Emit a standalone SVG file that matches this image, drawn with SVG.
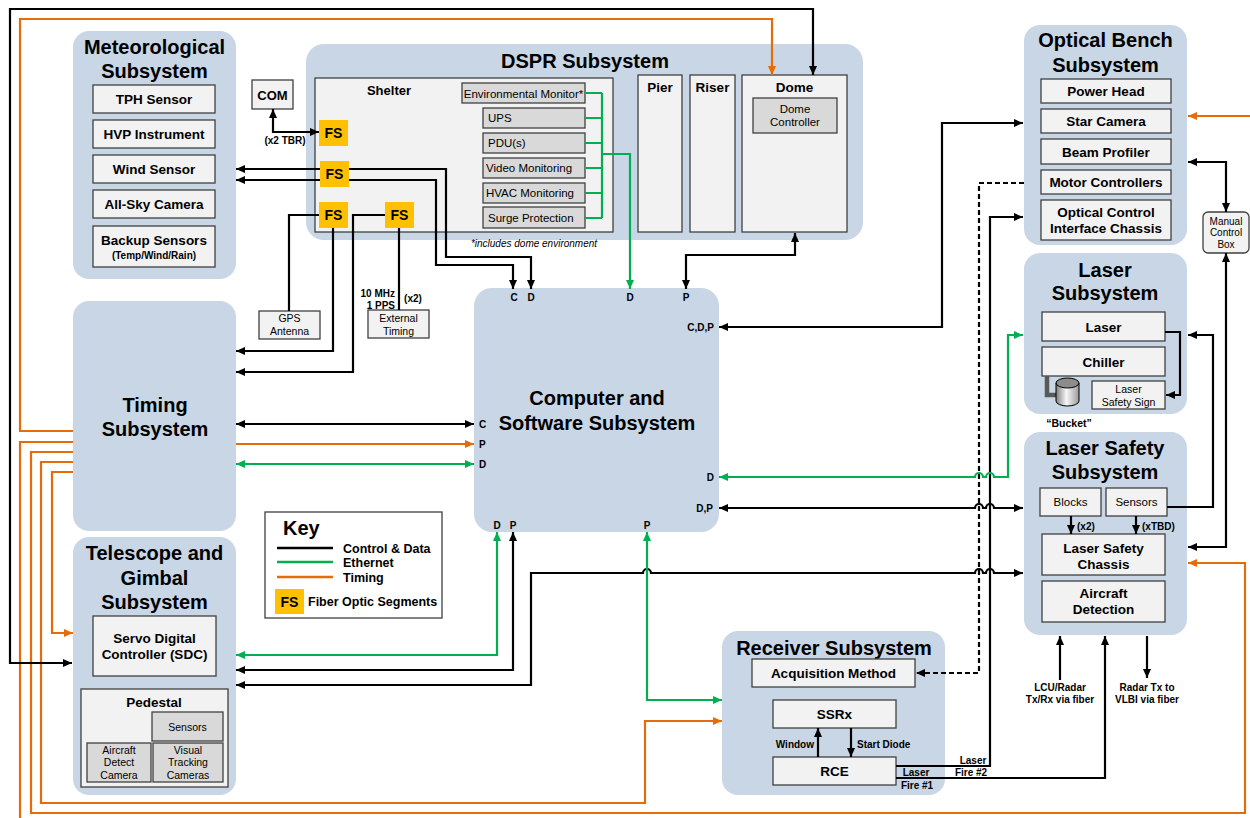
<svg xmlns="http://www.w3.org/2000/svg" width="1250" height="818" viewBox="0 0 1250 818">
<defs>
  <marker id="ak" viewBox="0 0 9 8" refX="9" refY="4" markerWidth="9" markerHeight="8" markerUnits="userSpaceOnUse" orient="auto-start-reverse"><path d="M0,0 L9,4 L0,8 z" fill="#000"/></marker>
  <marker id="ag" viewBox="0 0 9 8" refX="9" refY="4" markerWidth="9" markerHeight="8" markerUnits="userSpaceOnUse" orient="auto-start-reverse"><path d="M0,0 L9,4 L0,8 z" fill="#00B050"/></marker>
  <marker id="ao" viewBox="0 0 9 8" refX="9" refY="4" markerWidth="9" markerHeight="8" markerUnits="userSpaceOnUse" orient="auto-start-reverse"><path d="M0,0 L9,4 L0,8 z" fill="#E46C0A"/></marker>
  <linearGradient id="cyl" x1="0" y1="0" x2="1" y2="0">
    <stop offset="0" stop-color="#7f7f7f"/>
    <stop offset="0.45" stop-color="#f7f7f7"/>
    <stop offset="1" stop-color="#9a9a9a"/>
  </linearGradient>
</defs>
<style>
  text { font-family: "Liberation Sans", Arial, sans-serif; fill: #000; }
  .sub { fill: #C8D6E5; }
  .box { fill: #F2F2F2; stroke: #404040; stroke-width: 1.3; }
  .gbox { fill: #D9D9D9; stroke: #404040; stroke-width: 1.3; }
  .fs { fill: #FFC000; }
  .h { font-size: 20px; font-weight: bold; text-anchor: middle; }
  .b { font-size: 13.5px; font-weight: bold; text-anchor: middle; }
  .n { font-size: 11.5px; text-anchor: middle; }
  .s { font-size: 10.5px; text-anchor: middle; }
  .l { font-size: 10px; font-weight: bold; }
  .c { text-anchor: middle; }
  .e { text-anchor: end; }
  .fst { font-size: 14px; font-weight: bold; text-anchor: middle; }
  .k { fill: none; stroke: #000; stroke-width: 2.2; }
  .g { fill: none; stroke: #00B050; stroke-width: 2.2; }
  .o { fill: none; stroke: #E46C0A; stroke-width: 2.2; }
</style>
<rect width="1250" height="818" fill="#fff"/>

<!-- Meteorological -->
<g id="meteorological">
  <rect class="sub" x="73" y="31" width="163" height="248" rx="16"/>
  <text class="h" x="154.5" y="54">Meteorological</text>
  <text class="h" x="154.5" y="78">Subsystem</text>
  <rect class="box" x="93" y="85" width="122" height="28"/>
  <text class="b" x="154" y="104">TPH Sensor</text>
  <rect class="box" x="93" y="120" width="122" height="28"/>
  <text class="b" x="154" y="139">HVP Instrument</text>
  <rect class="box" x="93" y="155" width="122" height="28"/>
  <text class="b" x="154" y="174">Wind Sensor</text>
  <rect class="box" x="93" y="190" width="122" height="28"/>
  <text class="b" x="154" y="209">All-Sky Camera</text>
  <rect class="box" x="93" y="226" width="122" height="41"/>
  <text class="b" x="154" y="245">Backup Sensors</text>
  <text class="l c" x="154" y="259">(Temp/Wind/Rain)</text>
</g>

<!-- COM -->
<g id="com">
  <rect class="box" x="252" y="80" width="41" height="29"/>
  <text class="c" x="272.5" y="99.5" font-size="13" font-weight="bold">COM</text>
  <text class="l c" x="285" y="144">(x2 TBR)</text>
</g>

<!-- DSPR -->
<g id="dspr">
  <rect class="sub" x="306" y="44" width="557" height="196" rx="18"/>
  <text class="h" x="585" y="68">DSPR Subsystem</text>
  <rect class="box" x="315" y="78" width="298" height="154"/>
  <text class="c" x="389" y="95" font-size="13" font-weight="bold">Shelter</text>
  <rect class="gbox" x="462" y="83" width="123" height="20"/>
  <text class="n" x="523.5" y="97.5">Environmental Monitor*</text>
  <rect class="gbox" x="483" y="108" width="102" height="20"/>
  <text x="488" y="122" font-size="11.5">UPS</text>
  <rect class="gbox" x="483" y="133" width="102" height="20"/>
  <text x="488" y="147" font-size="11.5">PDU(s)</text>
  <rect class="gbox" x="483" y="158" width="102" height="20"/>
  <text x="486" y="172" font-size="11.5">Video Monitoring</text>
  <rect class="gbox" x="483" y="183" width="102" height="20"/>
  <text x="486" y="197" font-size="11.5">HVAC Monitoring</text>
  <rect class="gbox" x="483" y="207" width="102" height="21"/>
  <text x="488" y="221.5" font-size="11.5">Surge Protection</text>
  <rect class="box" x="638" y="75" width="44" height="157"/>
  <text class="b" x="660" y="92">Pier</text>
  <rect class="box" x="690" y="75" width="45" height="157"/>
  <text class="b" x="712.5" y="92">Riser</text>
  <rect class="box" x="742" y="75" width="105" height="157"/>
  <text class="b" x="794.5" y="92">Dome</text>
  <rect class="gbox" x="753" y="98" width="84" height="35"/>
  <text class="n" x="795" y="113">Dome</text>
  <text class="n" x="795" y="126">Controller</text>
  <text class="c" x="534" y="247" font-size="10" font-style="italic">*includes dome environment</text>
</g>

<!-- GPS antenna and external timing -->
<g id="gps-antenna">
  <rect class="box" x="259" y="311" width="61" height="28"/>
  <text class="s" x="289.5" y="322">GPS</text>
  <text class="s" x="289.5" y="335">Antenna</text>
</g>
<g id="external-timing">
  <rect class="box" x="368" y="310" width="61" height="28"/>
  <text class="s" x="398.5" y="321.5">External</text>
  <text class="s" x="398.5" y="334.5">Timing</text>
  <text class="l e" x="395" y="297">10 MHz</text>
  <text class="l e" x="395" y="308.5">1 PPS</text>
  <text class="l c" x="413" y="302">(x2)</text>
</g>

<!-- Timing -->
<g id="timing">
  <rect class="sub" x="73" y="301" width="163" height="230" rx="16"/>
  <text class="h" x="155" y="412">Timing</text>
  <text class="h" x="155" y="436">Subsystem</text>
</g>

<!-- Computer and Software -->
<g id="computer">
  <rect class="sub" x="474" y="288" width="245" height="244" rx="18"/>
  <text class="h" x="597" y="405">Computer and</text>
  <text class="h" x="597" y="430">Software Subsystem</text>
  <text class="l c" x="514" y="301">C</text>
  <text class="l c" x="531" y="301">D</text>
  <text class="l c" x="630" y="301">D</text>
  <text class="l c" x="686" y="301">P</text>
  <text class="l e" x="714" y="331">C,D,P</text>
  <text class="l e" x="714" y="481">D</text>
  <text class="l e" x="713" y="512">D,P</text>
  <text class="l" x="479" y="428">C</text>
  <text class="l" x="479" y="448">P</text>
  <text class="l" x="479" y="468">D</text>
  <text class="l c" x="497" y="529">D</text>
  <text class="l c" x="513" y="529">P</text>
  <text class="l c" x="647" y="529">P</text>
</g>

<!-- Telescope and Gimbal -->
<g id="telescope">
  <rect class="sub" x="73" y="537" width="163" height="258" rx="16"/>
  <text class="h" x="154.5" y="560">Telescope and</text>
  <text class="h" x="154.5" y="585">Gimbal</text>
  <text class="h" x="154.5" y="609">Subsystem</text>
  <rect class="box" x="93" y="616" width="123" height="60"/>
  <text class="b" x="154.5" y="643">Servo Digital</text>
  <text class="b" x="154.5" y="659">Controller (SDC)</text>
  <rect class="box" x="81" y="689" width="147" height="98"/>
  <text class="b" x="154" y="707">Pedestal</text>
  <rect class="gbox" x="152" y="712" width="71" height="29"/>
  <text class="s" x="187.5" y="730.5">Sensors</text>
  <rect class="gbox" x="87" y="743" width="64" height="39"/>
  <text class="s" x="119" y="754">Aircraft</text>
  <text class="s" x="119" y="766">Detect</text>
  <text class="s" x="119" y="779">Camera</text>
  <rect class="gbox" x="153" y="743" width="70" height="39"/>
  <text class="s" x="188" y="754">Visual</text>
  <text class="s" x="188" y="766">Tracking</text>
  <text class="s" x="188" y="779">Cameras</text>
</g>

<!-- Key -->
<g id="key">
  <rect x="265" y="512" width="177" height="106" fill="#fff" stroke="#404040" stroke-width="1.3"/>
  <text x="283" y="535" font-size="20" font-weight="bold">Key</text>
  <line x1="277" y1="548" x2="333" y2="548" stroke="#000" stroke-width="2.5"/>
  <line x1="277" y1="562" x2="333" y2="562" stroke="#00B050" stroke-width="2.5"/>
  <line x1="277" y1="577" x2="333" y2="577" stroke="#E46C0A" stroke-width="2.5"/>
  <text x="343" y="553" font-size="12.5" font-weight="bold">Control &amp; Data</text>
  <text x="343" y="567" font-size="12.5" font-weight="bold">Ethernet</text>
  <text x="343" y="582" font-size="12.5" font-weight="bold">Timing</text>
  <rect class="fs" x="275" y="589" width="29" height="25"/>
  <text class="fst" x="289.5" y="606.5">FS</text>
  <text x="308" y="606" font-size="12.5" font-weight="bold">Fiber Optic Segments</text>
</g>

<!-- Receiver -->
<g id="receiver">
  <rect class="sub" x="722" y="631" width="223" height="164" rx="16"/>
  <text class="h" x="834" y="655">Receiver Subsystem</text>
  <rect class="box" x="752" y="659" width="163" height="28"/>
  <text class="b" x="833.5" y="678">Acquisition Method</text>
  <rect class="box" x="773" y="700" width="123" height="28"/>
  <text class="b" x="834.5" y="719">SSRx</text>
  <rect class="box" x="773" y="757" width="123" height="28"/>
  <text class="b" x="834.5" y="776">RCE</text>
  <text class="l e" x="814" y="748">Window</text>
  <text class="l" x="857" y="748">Start Diode</text>
  <text class="l c" x="973" y="764">Laser</text>
  <text class="l c" x="971" y="776">Fire #2</text>
  <text class="l c" x="916" y="776">Laser</text>
  <text class="l c" x="917" y="789">Fire #1</text>
</g>

<!-- Optical Bench -->
<g id="optical-bench">
  <rect class="sub" x="1024" y="25" width="163" height="220" rx="16"/>
  <text class="h" x="1105.5" y="47">Optical Bench</text>
  <text class="h" x="1105.5" y="72">Subsystem</text>
  <rect class="box" x="1041" y="79" width="130" height="24"/>
  <text class="b" x="1106" y="96">Power Head</text>
  <rect class="box" x="1041" y="109" width="130" height="24"/>
  <text class="b" x="1106" y="126">Star Camera</text>
  <rect class="box" x="1041" y="139" width="130" height="25"/>
  <text class="b" x="1106" y="156.5">Beam Profiler</text>
  <rect class="box" x="1041" y="170" width="130" height="24"/>
  <text class="b" x="1106" y="187">Motor Controllers</text>
  <rect class="box" x="1041" y="200" width="130" height="40"/>
  <text class="b" x="1106" y="217">Optical Control</text>
  <text class="b" x="1106" y="233">Interface Chassis</text>
</g>

<!-- Manual Control Box -->
<g id="manual-control-box">
  <rect class="box" x="1203" y="212" width="46" height="41" rx="5"/>
  <text class="c" x="1226" y="224.5" font-size="10">Manual</text>
  <text class="c" x="1226" y="236" font-size="10">Control</text>
  <text class="c" x="1226" y="248" font-size="10">Box</text>
</g>

<!-- Laser -->
<g id="laser">
  <rect class="sub" x="1024" y="253" width="163" height="161" rx="16"/>
  <text class="h" x="1105" y="277">Laser</text>
  <text class="h" x="1105" y="300">Subsystem</text>
  <rect class="box" x="1042" y="312" width="123" height="29"/>
  <text class="b" x="1103.5" y="331.5">Laser</text>
  <rect class="box" x="1042" y="347" width="123" height="29"/>
  <text class="b" x="1103.5" y="366.5">Chiller</text>
  <path d="M1047,376 V395 H1058" fill="none" stroke="#595959" stroke-width="4.5"/>
  <path d="M1056,383 V401 A11.5,5 0 0 0 1079,401 V383 Z" fill="url(#cyl)" stroke="#000" stroke-width="1"/>
  <ellipse cx="1067.5" cy="383" rx="11.5" ry="5" fill="#8c8c8c" stroke="#000" stroke-width="1"/>
  <rect class="box" x="1092" y="381" width="73" height="28"/>
  <text class="s" x="1128.5" y="393">Laser</text>
  <text class="s" x="1128.5" y="406">Safety Sign</text>
  <text class="c" x="1069" y="427" font-size="10.5" font-weight="bold">“Bucket”</text>
</g>

<!-- Laser Safety -->
<g id="laser-safety">
  <rect class="sub" x="1024" y="432" width="163" height="203" rx="16"/>
  <text class="h" x="1105" y="455">Laser Safety</text>
  <text class="h" x="1105" y="479">Subsystem</text>
  <rect class="box" x="1040" y="488" width="61" height="28"/>
  <text class="n" x="1070.5" y="506">Blocks</text>
  <rect class="box" x="1106" y="488" width="61" height="28"/>
  <text class="n" x="1136.5" y="506">Sensors</text>
  <text class="l" x="1077" y="530">(x2)</text>
  <text class="l" x="1142" y="530">(xTBD)</text>
  <rect class="box" x="1042" y="534" width="123" height="41"/>
  <text class="b" x="1103.5" y="552.5">Laser Safety</text>
  <text class="b" x="1103.5" y="568.5">Chassis</text>
  <rect class="box" x="1042" y="581" width="123" height="41"/>
  <text class="b" x="1103.5" y="598">Aircraft</text>
  <text class="b" x="1103.5" y="614">Detection</text>
  <text class="l c" x="1060" y="691">LCU/Radar</text>
  <text class="l c" x="1060" y="703">Tx/Rx via fiber</text>
  <text class="l c" x="1147" y="691">Radar Tx to</text>
  <text class="l c" x="1147" y="703">VLBI via fiber</text>
</g>

<!-- Connectors -->
<g id="connectors">
  <!-- timing distribution -->
  <path class="o" d="M73,431 H20 V19 H772 V75" marker-end="url(#ao)"/>
  <path class="o" d="M73,442 H20 V818"/>
  <path class="o" d="M73,452 H31 V813 H1245 V563 H1188" marker-end="url(#ao)"/>
  <path class="o" d="M73,462 H41 V803 H645 V721 H722" marker-end="url(#ao)"/>
  <path class="o" d="M73,472 H52 V633 H73" marker-end="url(#ao)"/>
  <path class="o" d="M1250,116 H1188" marker-end="url(#ao)"/>
  <path class="o" d="M236,444 H474" marker-end="url(#ao)"/>

  <!-- control & data -->
  <path class="k" d="M72,663 H10 V9 H813 V75" marker-start="url(#ak)" marker-end="url(#ak)"/>
  <path class="k" d="M273,109 V132 H319" marker-start="url(#ak)" marker-end="url(#ak)"/>
  <path class="k" d="M531,289 V257 H446 V169 H236" marker-start="url(#ak)" marker-end="url(#ak)"/>
  <path class="k" d="M513,289 V265 H436 V180 H236" marker-start="url(#ak)" marker-end="url(#ak)"/>
  <path class="k" d="M319,215 H289 V311"/>
  <path class="k" d="M333,228 V351 H236" marker-end="url(#ak)"/>
  <path class="k" d="M385,215 H353 V372 H236" marker-end="url(#ak)"/>
  <path class="k" d="M399,228 V310"/>
  <path class="k" d="M686,289 V255 H795 V233" marker-start="url(#ak)" marker-end="url(#ak)"/>
  <path class="k" d="M236,424 H474" marker-start="url(#ak)" marker-end="url(#ak)"/>
  <path class="k" d="M719,327 H942 V123 H1023" marker-start="url(#ak)" marker-end="url(#ak)"/>
  <path class="k" d="M719,508 H975 a4,4 0 0 1 8,0 H986 a4,4 0 0 1 8,0 H1023" marker-start="url(#ak)" marker-end="url(#ak)"/>
  <path class="k" d="M513,532 V670 H236" marker-start="url(#ak)" marker-end="url(#ak)"/>
  <path class="k" d="M236,685 H531 V573 H643 a4,4 0 0 1 8,0 H975 a4,4 0 0 1 8,0 H986 a4,4 0 0 1 8,0 H1023" marker-start="url(#ak)" marker-end="url(#ak)"/>
  <path class="k" stroke-dasharray="5,3" d="M1024,183 H979 V673 H916" marker-end="url(#ak)"/>
  <path class="k" d="M896,766 H990 V217 H1023" marker-end="url(#ak)"/>
  <path class="k" d="M896,778 H1105 V636" marker-end="url(#ak)"/>
  <path class="k" d="M1060,680 V636" marker-end="url(#ak)"/>
  <path class="k" d="M1147,636 V678" marker-end="url(#ak)"/>
  <path class="k" d="M818,757 V728" marker-end="url(#ak)"/>
  <path class="k" d="M851,728 V757" marker-end="url(#ak)"/>
  <path class="k" d="M1188,162 H1226 V212" marker-start="url(#ak)" marker-end="url(#ak)"/>
  <path class="k" d="M1188,547 H1226 V253" marker-start="url(#ak)" marker-end="url(#ak)"/>
  <path class="k" d="M1167,507 H1213 V335 H1188" marker-end="url(#ak)"/>
  <path class="k" d="M1165,332 H1180 V395 H1166" marker-end="url(#ak)"/>
  <path class="k" d="M1071,516 V534" marker-end="url(#ak)"/>
  <path class="k" d="M1136,516 V534" marker-end="url(#ak)"/>

  <!-- ethernet -->
  <path class="g" d="M602,93 V218 M585,93 H602 M585,118 H602 M585,143 H602 M585,168 H602 M585,193 H602 M585,218 H602"/>
  <path class="g" d="M602,154 H630 V289" marker-end="url(#ag)"/>
  <path class="g" d="M236,464 H474" marker-start="url(#ag)" marker-end="url(#ag)"/>
  <path class="g" d="M719,477 H975 a4,4 0 0 1 8,0 H986 a4,4 0 0 1 8,0 H1008 V335 H1023" marker-start="url(#ag)" marker-end="url(#ag)"/>
  <path class="g" d="M497,532 V655 H236" marker-start="url(#ag)" marker-end="url(#ag)"/>
  <path class="g" d="M647,532 V700 H722" marker-start="url(#ag)" marker-end="url(#ag)"/>
</g>

<!-- Fiber optic segments -->
<g id="fiber-segments">
  <rect class="fs" x="319" y="120" width="29" height="26"/>
  <text class="fst" x="333.5" y="138">FS</text>
  <rect class="fs" x="320" y="161" width="29" height="26"/>
  <text class="fst" x="334.5" y="179">FS</text>
  <rect class="fs" x="319" y="202" width="29" height="26"/>
  <text class="fst" x="333.5" y="220">FS</text>
  <rect class="fs" x="385" y="202" width="29" height="26"/>
  <text class="fst" x="399.5" y="220">FS</text>
</g>
</svg>
